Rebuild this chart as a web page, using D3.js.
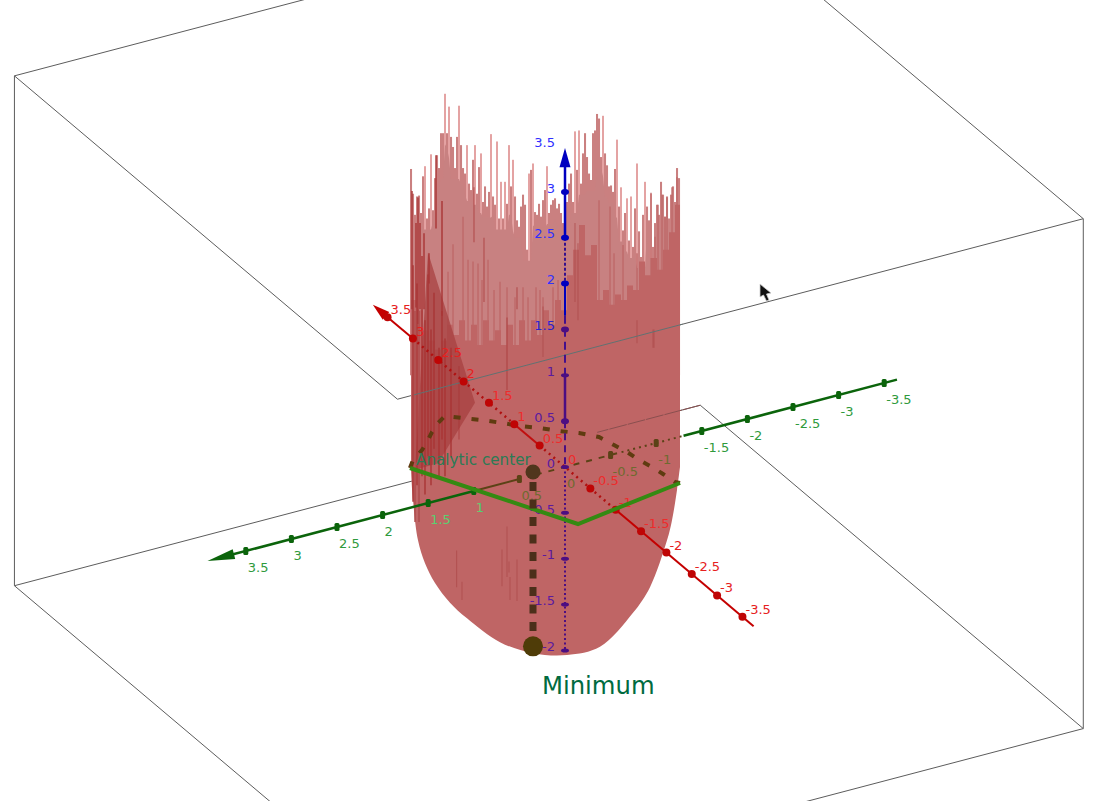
<!DOCTYPE html>
<html>
<head>
<meta charset="utf-8">
<style>
  html, body { margin: 0; padding: 0; background: #fff; }
  svg { display: block; font-family: "DejaVu Sans", sans-serif; }
</style>
<script src="https://cdn.jsdelivr.net/npm/d3@7"></script>
</head>
<body>
<svg id="chart" width="1102" height="801"></svg>
<script>
// axis ticks
const xTicks = [3.5, 3, 2.5, 2, 1.5, 1, 0.5, 0, -0.5, -1, -1.5, -2, -2.5, -3, -3.5];
const yTicks = [3.5, 3, 2.5, 2, 1.5, 1, 0.5, 0, -0.5, -1, -1.5, -2, -2.5, -3, -3.5];
const zTicks = [3.5, 3, 2.5, 2, 1.5, 1, 0.5, 0, -0.5, -1, -1.5, -2];

// bounding box of the view
const boxX = [-3.675, 3.88];
const boxY = [-3.64, 3.88];
const boxZ = [-2.09, 3.47];

// polygon in the z=0 plane, front edges
const polyX = [0.709, -1.076, -0.824];
const polyY = [1.306, 0.456, -0.803];

// back edge of the feasible region, z=0 (dashed)
const edgeX = [0.709, 0.837, 0.973, 1.092, 1.247, 1.379, 1.471, 1.356, 1.226, 1.079, 0.937, 0.812, 0.669, 0.540, 0.375, 0.162, -0.023, -0.222, -0.408, -0.584, -0.783, -0.824];
const edgeY = [1.306, 1.201, 1.027, 0.906, 0.765, 0.626, 0.498, 0.376, 0.228, 0.091, -0.038, -0.177, -0.306, -0.454, -0.581, -0.627, -0.667, -0.688, -0.727, -0.750, -0.771, -0.803];

// analytic center and the minimum below it
const centerPoint = [0.061, 0.317, 0];
const minimumPoint = [0.061, 0.317, -1.89];

// surface: height of the torn rim for each column, left to right
const rimZ = [3.25, 2.98, 2.75, 2.95, 2.96, 2.77, 3.17, 3.28, 2.71, 2.82, 3.41, 2.80, 3.15, 3.40, 3.26, 3.64, 3.64, 4.07, 3.64, 3.93, 3.60, 3.49, 3.26, 3.60, 3.94, 3.51, 3.26, 3.20, 3.51, 3.09, 3.02, 3.35, 3.51, 2.98, 3.27, 3.42, 2.89, 3.06, 2.84, 3.00, 3.63, 2.95, 2.86, 3.55, 2.71,
  3.11, 2.71, 3.11, 2.87, 3.51, 3.06, 3.35, 2.95, 2.69, 2.62, 2.84, 2.97, 2.86, 2.37, 3.20, 3.24, 3.31, 2.78, 2.75, 2.87, 2.73, 2.91, 3.02, 3.28, 2.77, 2.86, 2.91, 2.93, 2.82, 2.87, 2.77, 2.66, 2.58, 2.89, 3.09, 3.20, 2.89, 3.66, 3.24, 3.67, 3.09, 3.42, 3.64, 3.38, 3.20,
  3.13, 3.64, 3.67, 3.85, 3.80, 3.38, 3.83, 3.42, 3.29, 3.06, 3.07, 3.00, 3.25, 3.57, 2.84, 3.05, 2.58, 2.77, 2.93, 2.47, 2.95, 2.40, 2.82, 3.31, 2.57, 2.29, 2.75, 3.11, 2.84, 2.69, 2.98, 2.40, 2.66, 2.86, 2.75, 3.11, 2.97, 2.73, 2.95, 2.71, 2.97, 3.06, 2.89, 3.26, 3.15];

// top of the nearer wall, every third column
const frontZ = [1.82, 1.71, 1.49, 1.38, 1.28, 1.38, 1.55, 1.44, 1.60, 1.38, 1.55, 1.33, 1.60, 1.38, 1.49, 1.33, 1.55, 1.33, 1.60, 1.38, 1.60, 1.44, 1.71, 1.55, 1.82, 1.71, 2.09, 2.37, 2.64, 2.31, 2.42, 1.82, 1.93, 1.77, 1.88, 1.82, 1.98, 1.93, 2.24, 2.09, 2.28, 2.15, 2.37, 2.56, 2.86];

// thin spikes that rise from the nearer wall
const spikeU = [18.5, 21, 26, 28.5, 31, 33.5, 35.5, 38.5, 41.5, 44.5, 48, 52, 56, 58.5, 62.5, 64.5, 66, 71, 73.5, 94, 99.5, 101.5, 106, 113, 120, 122, 123.5, 125.5, 127, 128, 130.5, 133];
const spikeZ = [2.13, 2.43, 2.73, 2.26, 2.24, 2.22, 2.04, 2.26, 1.93, 2.02, 1.96, 1.85, 1.96, 1.85, 1.96, 1.93, 1.85, 1.96, 2.04, 2.91, 2.84, 2.33, 2.42, 2.33, 2.99, 2.51, 2.86, 2.97, 2.73, 2.94, 3.05, 3.16];

// lower outline of the bowl
const bowlU = [134.5, 133, 130.5, 128, 119.5, 111, 94.5, 78, 61, 44.5, 28, 19.5, 12, 7, 3.5, 1, 0];
const bowlZ = [0, -0.25, -0.58, -0.80, -1.31, -1.59, -1.96, -2.05, -2.03, -1.91, -1.65, -1.48, -1.265, -1.05, -0.80, -0.36, -0.03];

// darker fold on the left of the surface
const foldU = [8.5, 18.5, 32, 13.5, 2];
const foldZ = [2.34, 1.64, 0.70, 0.04, -0.03];

// dark streaks: column, top, bottom
const streakU = [0.5, 2.5, 3.5, 4.5, 6.5, 9, 12.5, 15.5, 31.5, 36.5, 1, 2, 3, 4, 5.5, 7, 8.5, 10, 11.5, 14, 15.5, 17, 20, 24, 48, 53, 66, 82, 83.5, 113, 121, 22.8, 25.5, 48, 45.5, 49.5, 49, 53, 121.5];
const streakTop = [3.01, 2.66, 2.94, 2.66, 2.55, 2.33, 3.40, 2.90, 3.05, 2.50, 2.20, 1.70, 2.00, 1.70, 2.30, 1.60, 2.10, 1.50, 1.90, 1.30, 1.70, 1.40, 1.30, 1.10, 1.63, 1.96, 1.75, 2.66, 2.44, 1.60, 1.50, -0.91, -1.25, -0.65, -0.90, -1.20, -1.03, -1.01, 1.50];
const streakBot = [1.72, 1.74, 1.56, 1.72, 1.72, 2.0, 2.60, 1.65, 2.45, 1.80, -0.38, -0.60, -0.20, -0.60, -0.10, -0.30, 0.10, -0.20, 0.20, -0.10, 0.30, -0.10, 0.10, 0.30, 0.84, 1.72, 1.20, 1.80, 1.60, 1.35, 1.30, -1.31, -1.45, -1.20, -1.30, -1.45, -1.15, -1.46, 1.30];

// view projection: how one unit of each axis moves on the page
const xToPageX = d3.scaleLinear().domain([0, 1]).range([0, -50.7]);
const xToPageY = d3.scaleLinear().domain([0, 1]).range([0, -42.8]);
const yToPageX = d3.scaleLinear().domain([0, 1]).range([0, -91.2]);
const yToPageY = d3.scaleLinear().domain([0, 1]).range([0, 24]);
const zToPage = d3.scaleLinear().domain([0, 1]).range([467, 375.3]);
const columnX = d3.scaleLinear().domain([0, 134]).range([411, 679]);
const originX = 565;

function project(x, y, z) {
  return [originX + xToPageX(x) + yToPageX(y), zToPage(z) + xToPageY(x) + yToPageY(y)];
}

const line = d3.line();
const svg = d3.select("#chart");

function seg(g, a, b, color, width, dash) {
  const p = g.append("path")
    .attr("d", line([project(...a), project(...b)]))
    .attr("fill", "none")
    .attr("stroke", color)
    .attr("stroke-width", width);
  if (dash) p.attr("stroke-dasharray", dash);
  return p;
}

// box edges that are drawn behind everything
const gBox = svg.append("g");
const [x0, x1] = boxX, [y0, y1] = boxY, [z0, z1] = boxZ;
const boxEdges = [
  [[x1, y1, z1], [x0, y1, z1]],
  [[x1, y1, z1], [x1, y0, z1]],
  [[x0, y1, z1], [x0, y0, z1]],
  [[x1, y0, z1], [x0, y0, z1]],
  [[x1, y1, z1], [x1, y1, z0]],
  [[x0, y0, z1], [x0, y0, z0]],
  [[x1, y1, z0], [x1, y0, z0]],
  [[x1, y0, z0], [x0, y0, z0]],
  [[x1, y1, z0], [x0, y1, z0]],
  [[x0, y1, z0], [x0, y0, z0]]
];
boxEdges.forEach(e => seg(gBox, e[0], e[1], "#5c5c5c", 1));

// surface
const gSurface = svg.append("g");

function isSpike(d, i) {
  const nb = ((rimZ[i - 1] || d) + (rimZ[i + 1] || d)) / 2;
  return d - nb > 0.25;
}

// far wall, one bar per column
gSurface.selectAll(".rim")
  .data(rimZ)
  .join("rect")
  .attr("class", "rim")
  .attr("x", (d, i) => columnX(i) - (isSpike(d, i) ? 0.7 : 1))
  .attr("width", (d, i) => isSpike(d, i) ? 1.4 : 2.05)
  .attr("y", d => zToPage(d))
  .attr("height", d => zToPage(1) - zToPage(d))
  .attr("fill", (d, i) => isSpike(d, i) ? "#d97c7c" : "#ca8080");

// lower part of the far wall fills the gaps between bars
const bodyTop = rimZ.map((d, i) => Math.min(...rimZ.slice(Math.max(0, i - 2), i + 3)) - 0.12);
const bodyPts = bodyTop.map((d, i) => [columnX(i), zToPage(d)]);
bodyPts.push([columnX(134), zToPage(1)], [columnX(0), zToPage(1)]);
gSurface.append("path")
  .attr("d", line(bodyPts) + "Z")
  .attr("fill", "#c88181");

// spikes of the nearer wall
gSurface.selectAll(".spike")
  .data(spikeU)
  .join("line")
  .attr("class", "spike")
  .attr("x1", d => columnX(d))
  .attr("x2", d => columnX(d))
  .attr("y1", (d, i) => zToPage(spikeZ[i]))
  .attr("y2", zToPage(1))
  .attr("stroke", "#bd6767")
  .attr("stroke-width", 1.3);

// nearer wall and bowl
const frontPts = [];
frontZ.forEach((d, i) => {
  frontPts.push([columnX(i * 3), zToPage(d)]);
  frontPts.push([columnX(Math.min((i + 1) * 3, 134.5)), zToPage(d)]);
});
const bowlPath = d3.line().curve(d3.curveCatmullRom)(bowlU.map((u, i) => [columnX(u), zToPage(bowlZ[i])]));
gSurface.append("path")
  .attr("d", line(frontPts) + "L" + bowlPath.slice(1) + "Z")
  .attr("fill", "#bf6565");

// fold
gSurface.append("path")
  .attr("d", line(foldU.map((u, i) => [columnX(u), zToPage(foldZ[i])])) + "Z")
  .attr("fill", "#a63e3e")
  .attr("fill-opacity", 0.72);

// streaks
gSurface.selectAll(".streak")
  .data(streakU)
  .join("line")
  .attr("class", "streak")
  .attr("x1", d => columnX(d))
  .attr("x2", d => columnX(d))
  .attr("y1", (d, i) => zToPage(streakTop[i]))
  .attr("y2", (d, i) => zToPage(streakBot[i]))
  .attr("stroke", (d, i) => streakBot[i] < -0.5 || d > 60 ? "#ad4a4a" : "#a83434")
  .attr("stroke-width", (d, i) => d < 22 ? 2 : 1.1)
  .attr("stroke-opacity", 0.7);

// box edges seen through the surface
seg(gSurface, [x0, 3.7, z1], [x0, 0.755, z1], "#617272", 1);
seg(gSurface, [x1, y0, z0], [x1, y0 + 1.13, z0], "#8a4f4f", 1, "18 1");

// back edge, dashed
const gEdge = svg.append("g");
gEdge.append("path")
  .attr("d", line(edgeX.map((x, i) => project(x, edgeY[i], 0))))
  .attr("fill", "none")
  .attr("stroke", "#5f3b10")
  .attr("stroke-width", 4)
  .attr("stroke-dasharray", "7 11");

// axes, split where they pass through the surface
const gAxes = svg.append("g");
const redA = "#c40000", greenA = "#0b640b", brownA = "#5b4216";
seg(gAxes, [3.6, 0, 0], [3, 0, 0], redA, 2);
seg(gAxes, [3, 0, 0], [1.05, 0, 0], "#b01010", 2.5, "2 4");
seg(gAxes, [1, 0, 0], [0.55, 0, 0], "#c01010", 2);
seg(gAxes, [0.5, 0, 0], [-1, 0, 0], "#b01010", 2.5, "2 4");
seg(gAxes, [-1, 0, 0], [-3.72, 0, 0], redA, 2);

seg(gAxes, [0, 3.68, 0], [0, 1, 0], greenA, 2.5);
seg(gAxes, [0, 1, 0], [0, 0.5, 0], brownA, 2);
seg(gAxes, [0, 0.32, 0], [0, -0.62, 0], brownA, 2, "6 7");
seg(gAxes, [0, -0.62, 0], [0, -1.3, 0], brownA, 2, "2 4");
seg(gAxes, [0, -1.3, 0], [0, -3.64, 0], greenA, 2.5);

seg(gAxes, [0, 0, 3.3], [0, 0, 2.5], "#0000c0", 2.5);
seg(gAxes, [0, 0, 2.5], [0, 0, 2], "#34108c", 2, "3 2");
seg(gAxes, [0, 0, 2], [0, 0, 1.65], "#0000c0", 2);
seg(gAxes, [0, 0, 1.65], [0, 0, 1], "#43108c", 2, "8 5");
seg(gAxes, [0, 0, 1], [0, 0, 0.5], "#4b0e82", 2.5);
seg(gAxes, [0, 0, 0.5], [0, 0, 0], "#4b0e82", 2, "7 5");
seg(gAxes, [0, 0, 0], [0, 0, -2], "#4b0e82", 2, "2 2.5");

// arrow heads
function arrow(tip, base, halfW, color) {
  const dx = base[0] - tip[0], dy = base[1] - tip[1];
  const len = Math.hypot(dx, dy), nx = -dy / len * halfW, ny = dx / len * halfW;
  gAxes.append("path")
    .attr("d", line([tip, [base[0] + nx, base[1] + ny], [base[0] - nx, base[1] - ny]]) + "Z")
    .attr("fill", color);
}
arrow(project(3.79, 0, 0), project(3.53, 0, 0), 5, redA);
arrow(project(0, 3.92, 0), project(0, 3.63, 0), 5, greenA);
arrow(project(0, 0, 3.48), project(0, 0, 3.27), 5.5, "#0000c0");

// tick marks
gAxes.selectAll(".xtick").data(xTicks.filter(d => d !== 0)).join("circle")
  .attr("class", "xtick")
  .attr("cx", d => project(d, 0, 0)[0])
  .attr("cy", d => project(d, 0, 0)[1])
  .attr("r", 4)
  .attr("fill", "#bf0505");

gAxes.selectAll(".ytick").data(yTicks.filter(d => d !== 0)).join("rect")
  .attr("class", "ytick")
  .attr("x", d => project(0, d, 0)[0] - 2.5)
  .attr("y", d => project(0, d, 0)[1] - 4)
  .attr("width", 5)
  .attr("height", 8)
  .attr("rx", 1.5)
  .attr("fill", d => d > 0.6 || d < -1.2 ? greenA : brownA);

gAxes.selectAll(".ztick").data(zTicks.filter(d => d !== 3.5)).join("ellipse")
  .attr("class", "ztick")
  .attr("cx", originX)
  .attr("cy", d => zToPage(d))
  .attr("rx", 4)
  .attr("ry", d => d >= 1.5 || d === 0.5 ? 3 : 2)
  .attr("fill", d => d >= 2 ? "#0000c0" : "#4b0e82");

// tick labels
const gLabels = svg.append("g").attr("font-size", 13);
gLabels.selectAll(".xlabel").data(xTicks).join("text")
  .attr("class", "xlabel")
  .attr("x", d => project(d, 0, 0)[0] + 3)
  .attr("y", d => project(d, 0, 0)[1] - 3)
  .attr("fill", d => Math.abs(d) < 1.6 ? "#ee2b2b" : "#e62020")
  .text(d => String(d));

gLabels.selectAll(".ylabel").data(yTicks).join("text")
  .attr("class", "ylabel")
  .attr("x", d => project(0, d, 0)[0] + 2)
  .attr("y", d => project(0, d, 0)[1] + 21)
  .attr("fill", d => {
    if (d > 0.6 && d < 1.6) return "#5ad070";
    if (d <= 0.6 && d >= -1) return "#6f6a30";
    return "#2f9a3c";
  })
  .text(d => String(d));

const zAxis = d3.axisLeft(zToPage).tickValues(zTicks).tickSize(0).tickPadding(10).tickFormat(d => String(d));
const gZ = svg.append("g")
  .attr("transform", "translate(" + originX + ",-4)")
  .call(zAxis);
gZ.select(".domain").remove();
gZ.selectAll("text")
  .attr("font-family", "DejaVu Sans")
  .attr("font-size", 13)
  .attr("fill", d => {
    if (d >= 2) return "#3030ff";
    if (d === 1.5) return "#2a20d0";
    return "#5a1aa0";
  });

// front polygon on z=0
svg.append("path")
  .attr("d", line(polyX.map((x, i) => project(x, polyY[i], 0))))
  .attr("fill", "none")
  .attr("stroke", "#348a12")
  .attr("stroke-width", 4)
  .attr("stroke-linejoin", "miter");

// line between the analytic center and the minimum
svg.append("path")
  .attr("d", line([project(...centerPoint), project(...minimumPoint)]))
  .attr("stroke", "#4b2f1a")
  .attr("stroke-width", 7)
  .attr("stroke-dasharray", "9 8.5")
  .attr("stroke-dashoffset", -10);

// points
const [cx, cy] = project(...centerPoint);
svg.append("circle").attr("cx", cx).attr("cy", cy).attr("r", 7.5).attr("fill", "#50361d");
const [mx, my] = project(...minimumPoint);
svg.append("circle").attr("cx", mx).attr("cy", my + 1).attr("r", 10).attr("fill", "#4f3c08");

// object captions
svg.append("text")
  .attr("x", 416).attr("y", 465)
  .attr("font-size", 15.2)
  .attr("fill", "#2b7b55")
  .text("Analytic center");
svg.append("text")
  .attr("x", 542).attr("y", 694)
  .attr("font-size", 24.3)
  .attr("fill", "#006b3f")
  .text("Minimum");

// mouse pointer from the screenshot
svg.append("path")
  .attr("d", "M760,284L760,297L763.5,295L766.5,301L769,300L766.5,294L771,293Z")
  .attr("fill", "#111")
  .attr("stroke", "#ccc")
  .attr("stroke-width", 0.8);
</script>
</body>
</html>
